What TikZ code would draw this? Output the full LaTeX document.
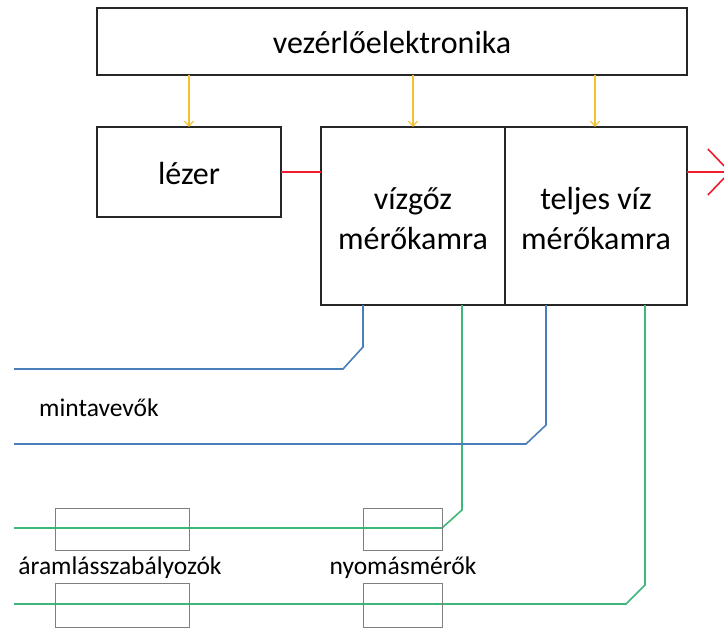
\documentclass[tikz,border=0pt]{standalone}
\usepackage{fontspec}
\setmainfont{Carlito}
\usetikzlibrary{arrows.meta}
\definecolor{boxline}{HTML}{262626}
\definecolor{ctrlyellow}{HTML}{F2C230}
\definecolor{laserred}{HTML}{EE1C2E}
\definecolor{sampleblue}{HTML}{4A7EBB}
\definecolor{gasgreen}{HTML}{3DB87A}
\definecolor{devgray}{HTML}{7F7F7F}
\begin{document}
\begin{tikzpicture}[x=1pt,y=-1pt,
  bigbox/.style={draw=boxline,line width=1.4pt},
  bigtext/.style={font=\fontsize{32}{40}\selectfont,align=center,inner sep=0pt},
  smalltext/.style={font=\fontsize{25.5}{30}\selectfont,inner sep=0pt},
  ctrl/.style={draw=ctrlyellow,line width=1.2pt,-{Straight Barb[length=5pt,width=9pt]}},
  beam/.style={draw=laserred,line width=1.6pt},
  blueline/.style={draw=sampleblue,line width=1.6pt},
  greenline/.style={draw=gasgreen,line width=1.6pt},
  device/.style={draw=devgray,line width=1pt}]
\useasboundingbox (0,0) rectangle (724,634);
% boxes
\draw[bigbox] (97,8) rectangle (687,75);
\node[bigtext] (ctrl) at (392,43) {vezérlőelektronika};
\draw[bigbox] (97,127) rectangle (281,217);
\node[bigtext] (laser) at (189,173) {lézer};
\draw[bigbox] (321,127) rectangle (687,305);
\draw[bigbox] (505,127) -- (505,305);
\node[bigtext] (vap) at (413,219) {vízgőz\\mérőkamra};
\node[bigtext] (tot) at (596,219) {teljes víz\\mérőkamra};
% control arrows
\coordinate (c1s) at (189,75); \coordinate (c1e) at (189,127);
\coordinate (c2s) at (413,75); \coordinate (c2e) at (413,127);
\coordinate (c3s) at (595,75); \coordinate (c3e) at (595,127);
\draw[ctrl] (c1s) -- (c1e);
\draw[ctrl] (c2s) -- (c2e);
\draw[ctrl] (c3s) -- (c3e);
% laser beam
\coordinate (lb1) at (281,172); \coordinate (lb2) at (321,172);
\draw[beam] (lb1) -- (lb2);
\coordinate (lo1) at (687,172); \coordinate (lo2) at (731,172);
\draw[beam,-{Straight Barb[length=22pt,width=46pt,line width=1.6pt]}] (lo1) -- (lo2);
% gas lines (green)
\coordinate (g1a) at (462,305); \coordinate (g1b) at (462,510);
\coordinate (g1c) at (442,528); \coordinate (g1d) at (14,528);
\coordinate (g2a) at (645,305); \coordinate (g2b) at (645,585);
\coordinate (g2c) at (626,604); \coordinate (g2d) at (14,604);
\draw[greenline] (g1a) -- (g1b) -- (g1c) -- (g1d);
\draw[greenline] (g2a) -- (g2b) -- (g2c) -- (g2d);
% sample lines (blue)
\coordinate (b1a) at (363,305); \coordinate (b1b) at (363,347);
\coordinate (b1c) at (343,369); \coordinate (b1d) at (14,369);
\coordinate (b2a) at (546,305); \coordinate (b2b) at (546,425);
\coordinate (b2c) at (526,444); \coordinate (b2d) at (14,444);
\draw[blueline] (b1a) -- (b1b) -- (b1c) -- (b1d);
\draw[blueline] (b2a) -- (b2b) -- (b2c) -- (b2d);
% devices
\draw[device] (55,508) rectangle (189,550);
\draw[device] (55,583) rectangle (189,627);
\draw[device] (363,508) rectangle (442,550);
\draw[device] (363,583) rectangle (442,627);
% labels
\node[smalltext,anchor=west] (samp) at (39,408) {mintavevők};
\node[smalltext] (flow) at (120,568) {áramlásszabályozók};
\node[smalltext] (press) at (403,568) {nyomásmérők};
\end{tikzpicture}
\end{document}
